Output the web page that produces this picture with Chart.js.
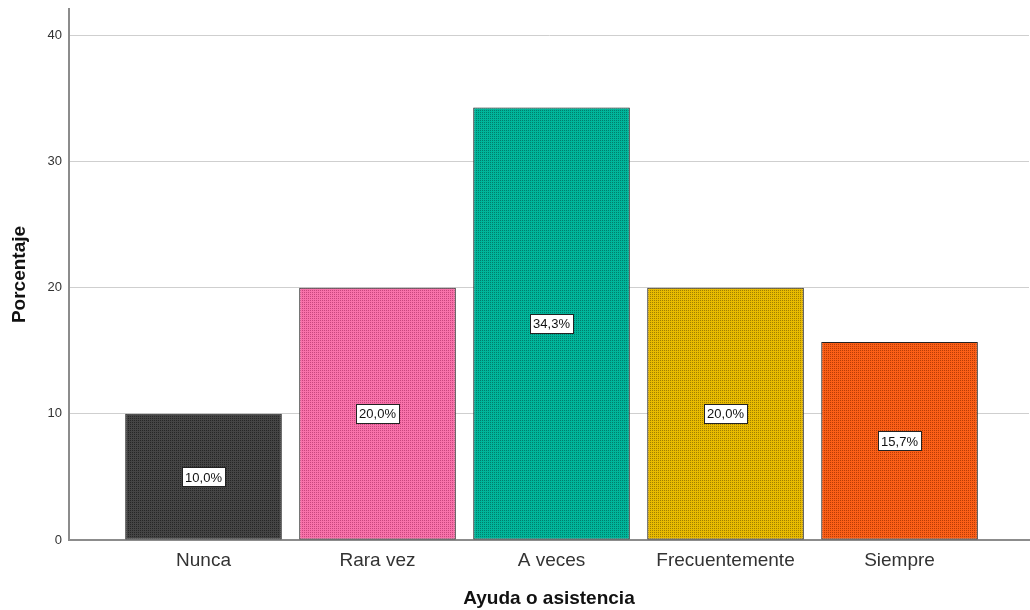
<!DOCTYPE html>
<html>
<head>
<meta charset="utf-8">
<script src="https://cdn.jsdelivr.net/npm/chart.js@4/dist/chart.umd.min.js"></script>
<style>
  html, body { margin: 0; padding: 0; background: #fff; }
  #wrap { width: 1030px; height: 610px; }
</style>
</head>
<body>
<div id="wrap"><canvas id="myChart" width="1030" height="610"></canvas></div>
<script>
// Datos: Ayuda o asistencia (porcentaje)
var categorias = ["Nunca", "Rara vez", "A veces", "Frecuentemente", "Siempre"];
var porcentajes = [10.0, 20.0, 34.3, 20.0, 15.7];
var ticksY = [0, 10, 20, 30, 40];

// colores base y punto de la trama
var coloresBase = ["#454545", "#f872aa", "#00b59a", "#e8ba00", "#fb5f17"];
var coloresPunto = ["#262626", "#c8467e", "#007d6b", "#a07f00", "#b83c06"];

var fuente = "'Liberation Sans', Arial, sans-serif";

function trama(base, punto) {
    var c = document.createElement("canvas");
    c.width = 4; c.height = 4;
    var g = c.getContext("2d");
    g.fillStyle = base;
    g.fillRect(0, 0, 4, 4);
    g.fillStyle = punto;
    g.fillRect(0, 0, 1, 1);
    g.fillRect(2, 2, 1, 1);
    g.fillRect(2, 0, 1, 1);
    g.fillRect(0, 2, 1, 1);
    return g.createPattern(c, "repeat");
}

var rellenos = coloresBase.map(function(b, i) {
    return trama(b, coloresPunto[i]);
});

var puntos = porcentajes.map(function(v, i) {
    return { x: i, y: v };
});

// etiquetas de valor en el centro de cada barra
var etiquetas = {
    id: "etiquetas",
    afterDatasetsDraw: function(chart) {
        var ctx = chart.ctx;
        var meta = chart.getDatasetMeta(0);
        var ys = chart.scales.y;
        ctx.save();
        ctx.font = "13px " + fuente;
        ctx.textAlign = "center";
        ctx.textBaseline = "middle";
        meta.data.forEach(function(bar, i) {
            var txt = porcentajes[i].toFixed(1).replace(".", ",") + "%";
            var cy = ys.getPixelForValue(porcentajes[i] / 2);
            var w = Math.round(ctx.measureText(txt).width + 6);
            var h = 19;
            var x0 = Math.round(bar.x - w / 2) + 0.5;
            var y0 = Math.round(cy - h / 2) + 0.5;
            ctx.fillStyle = "#ffffff";
            ctx.fillRect(x0, y0, w, h);
            ctx.strokeStyle = "#222";
            ctx.lineWidth = 1;
            ctx.strokeRect(x0, y0, w, h);
            ctx.fillStyle = "#111";
            ctx.fillText(txt, bar.x, cy + 1);
        });
        ctx.restore();
    }
};

var ctx = document.getElementById("myChart").getContext("2d");
var myChart = new Chart(ctx, {
    type: "bar",
    data: {
        datasets: [{
            label: "Porcentaje",
            data: puntos,
            backgroundColor: rellenos,
            borderColor: "#222222",
            borderWidth: 1,
            borderSkipped: false,
            barPercentage: 0.9,
            categoryPercentage: 1.0
        }]
    },
    options: {
        responsive: false,
        animation: false,
        layout: { padding: { top: 9, right: 1, left: 4, bottom: 0 } },
        plugins: {
            legend: { display: false },
            tooltip: { enabled: false }
        },
        scales: {
            x: {
                type: "linear",
                offset: false,
                min: -0.773,
                max: 4.744,
                afterBuildTicks: function(scale) {
                    scale.ticks = categorias.map(function(c, i) { return { value: i }; });
                },
                afterFit: function(scale) {
                    scale.height = 70;
                    scale.paddingLeft = 0;
                    scale.paddingRight = 0;
                },
                grid: { display: false, drawTicks: false },
                border: { display: true, color: "#8c8c8c", width: 2 },
                ticks: {
                    padding: 9,
                    color: "#333",
                    maxRotation: 0,
                    font: { family: fuente, size: 19 },
                    callback: function(v) { return categorias[v]; }
                },
                title: {
                    display: true,
                    text: "Ayuda o asistencia",
                    color: "#111",
                    padding: { top: 0, bottom: 0 },
                    font: { family: fuente, size: 19, weight: "bold" }
                }
            },
            y: {
                min: 0,
                max: 42.1,
                afterBuildTicks: function(scale) {
                    scale.ticks = ticksY.map(function(v) { return { value: v }; });
                },
                afterFit: function(scale) {
                    scale.width = 65;
                    scale.paddingTop = 0;
                    scale.paddingBottom = 0;
                },
                grid: { color: "#cfcfcf", lineWidth: 1, drawTicks: false },
                border: { display: true, color: "#8c8c8c", width: 2 },
                ticks: {
                    padding: 7,
                    color: "#333",
                    font: { family: fuente, size: 13 }
                },
                title: {
                    display: true,
                    text: "Porcentaje",
                    color: "#111",
                    padding: { top: 4, bottom: 0 },
                    font: { family: fuente, size: 19, weight: "bold" }
                }
            }
        }
    },
    plugins: [etiquetas]
});
</script>
</body>
</html>
